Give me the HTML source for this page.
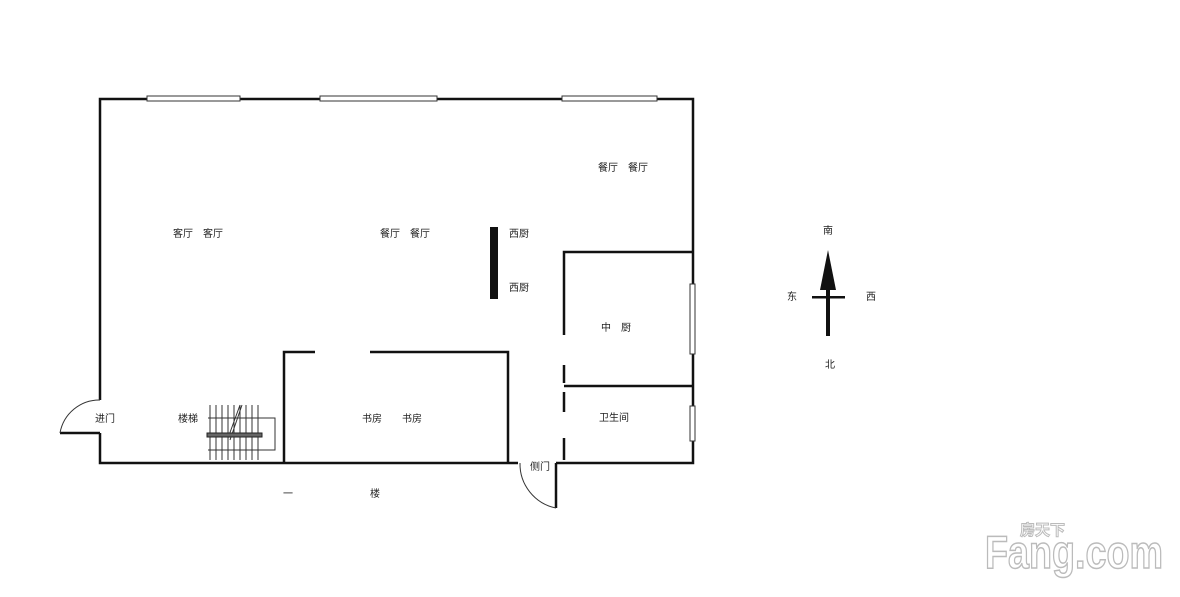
<!DOCTYPE html>
<html><head><meta charset="utf-8"><style>
body{margin:0;background:#fff;}
svg text{font-family:"Liberation Sans","Noto Sans CJK SC",sans-serif;font-size:10px;fill:#222;}
</style></head><body>
<svg width="1180" height="592" viewBox="0 0 1180 592" xmlns="http://www.w3.org/2000/svg">
<rect width="1180" height="592" fill="#fff"/>
<g stroke="#111" stroke-width="2.5" fill="none">
<path d="M100 400 V99 H693 V463 H556"/>
<path d="M100 433 V463 H518"/>
<path d="M60 433 H100"/>
<path d="M556 463 V508"/>
<path d="M284 463 V352 H315 M370 352 H508 V463"/>
<path d="M693 252 H564 V335"/>
<path d="M564 365 V383 M564 392 V412 M564 438 V460"/>
<path d="M564 386 H693"/>
</g>
<g stroke="#333" stroke-width="1" fill="none">
<path d="M60 433 A40 40 0 0 1 100 400"/>
<path d="M520 463 A45 45 0 0 0 556 508"/>
</g>
<g fill="#fff" stroke="#333" stroke-width="1">
<rect x="147" y="96" width="93" height="5"/>
<rect x="320" y="96" width="117" height="5"/>
<rect x="562" y="96" width="95" height="5"/>
<rect x="690" y="284" width="5" height="70"/>
<rect x="690" y="406" width="5" height="35"/>
</g>
<rect x="490" y="227" width="8" height="72" fill="#111"/>
<g stroke="#333" stroke-width="1" fill="none">
<path d="M210 405V460M216 405V460M222 405V460M228 405V460M234 405V460M240 405V460M246 405V460M252 405V460M258 405V460"/>
<path d="M208 418 H275 V450 H208"/>
<path d="M228 438 L240 405 M230 440 L242 405"/>
</g>
<rect x="207" y="433" width="55" height="4" fill="#666" stroke="#222" stroke-width="1"/>
<path d="M828 250 L820 290 H836 Z" fill="#111"/>
<rect x="826" y="288" width="4" height="48" fill="#111"/>
<rect x="812" y="296" width="33" height="2.5" fill="#111"/>
<g>
<text x="598" y="171">餐厅　餐厅</text>
<text x="173" y="237">客厅　客厅</text>
<text x="380" y="237">餐厅　餐厅</text>
<text x="509" y="237">西厨</text>
<text x="509" y="291">西厨</text>
<text x="601" y="331">中　厨</text>
<text x="599" y="421">卫生间</text>
<text x="95" y="422">进门</text>
<text x="178" y="422">楼梯</text>
<text x="362" y="422">书房　　书房</text>
<text x="530" y="470">侧门</text>
<text x="283" y="497">一</text>
<text x="370" y="497">楼</text>
<text x="823" y="234">南</text>
<text x="787" y="300">东</text>
<text x="866" y="300">西</text>
<text x="825" y="368">北</text>
</g>
<g>
<text x="985" y="568" textLength="178" lengthAdjust="spacingAndGlyphs" style="font-size:46px;font-weight:bold;fill:#fff;stroke:#bbb;stroke-width:1.5">Fang.com</text>
<text x="1020" y="535" style="font-size:15px;font-weight:bold;font-family:'Noto Sans CJK SC',sans-serif;fill:#fff;stroke:#bbb;stroke-width:1">房天下</text>
</g>
</svg>
</body></html>
